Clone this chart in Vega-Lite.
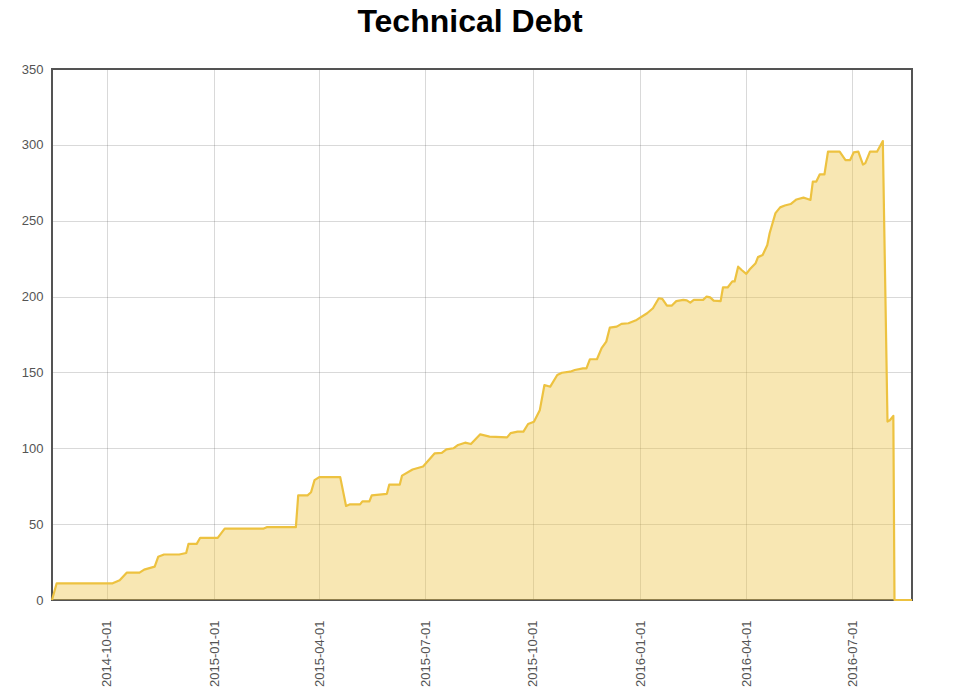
{
  "$schema": "https://vega.github.io/schema/vega-lite/v6.json",
  "width": 860,
  "height": 531,
  "autosize": {"type": "none"},
  "padding": {"left": 52, "top": 69, "right": 62, "bottom": 94},
  "background": "white",
  "title": {
    "text": "Technical Debt",
    "font": "Liberation Sans",
    "fontSize": 32,
    "fontWeight": "bold",
    "color": "#000000",
    "anchor": "middle",
    "dx": -12,
    "offset": 24
  },
  "config": {
    "view": {"stroke": "#545454", "strokeWidth": 2},
    "axis": {
      "labelFont": "Liberation Sans",
      "labelFontSize": 13,
      "labelColor": "#545454",
      "gridColor": "#545454",
      "gridOpacity": 0.22,
      "gridWidth": 1,
      "domain": false,
      "ticks": false,
      "tickSize": 0,
      "title": null
    }
  },
  "data": {
    "values": [
      {"date": "2014-08-15", "debt": 0},
      {"date": "2014-08-19", "debt": 11},
      {"date": "2014-10-06", "debt": 11},
      {"date": "2014-10-12", "debt": 13},
      {"date": "2014-10-18", "debt": 18},
      {"date": "2014-10-29", "debt": 18},
      {"date": "2014-11-02", "debt": 20},
      {"date": "2014-11-11", "debt": 22},
      {"date": "2014-11-14", "debt": 28.5},
      {"date": "2014-11-19", "debt": 30},
      {"date": "2014-12-02", "debt": 30},
      {"date": "2014-12-08", "debt": 31},
      {"date": "2014-12-10", "debt": 37},
      {"date": "2014-12-17", "debt": 37},
      {"date": "2014-12-20", "debt": 41},
      {"date": "2015-01-04", "debt": 41},
      {"date": "2015-01-10", "debt": 47},
      {"date": "2015-02-12", "debt": 47},
      {"date": "2015-02-15", "debt": 48},
      {"date": "2015-03-12", "debt": 48},
      {"date": "2015-03-14", "debt": 69},
      {"date": "2015-03-22", "debt": 69},
      {"date": "2015-03-25", "debt": 71},
      {"date": "2015-03-28", "debt": 79},
      {"date": "2015-04-01", "debt": 81},
      {"date": "2015-04-19", "debt": 81},
      {"date": "2015-04-24", "debt": 62},
      {"date": "2015-04-27", "debt": 63},
      {"date": "2015-05-06", "debt": 63},
      {"date": "2015-05-08", "debt": 65},
      {"date": "2015-05-14", "debt": 65},
      {"date": "2015-05-16", "debt": 69},
      {"date": "2015-05-29", "debt": 70},
      {"date": "2015-05-31", "debt": 76},
      {"date": "2015-06-09", "debt": 76},
      {"date": "2015-06-11", "debt": 82},
      {"date": "2015-06-20", "debt": 86},
      {"date": "2015-06-29", "debt": 88},
      {"date": "2015-07-09", "debt": 96.7},
      {"date": "2015-07-15", "debt": 97},
      {"date": "2015-07-19", "debt": 99.3},
      {"date": "2015-07-25", "debt": 100},
      {"date": "2015-07-29", "debt": 102.2},
      {"date": "2015-08-04", "debt": 103.7},
      {"date": "2015-08-09", "debt": 102.8},
      {"date": "2015-08-17", "debt": 109.2},
      {"date": "2015-08-25", "debt": 107.7},
      {"date": "2015-09-09", "debt": 107.2},
      {"date": "2015-09-12", "debt": 110},
      {"date": "2015-09-18", "debt": 111},
      {"date": "2015-09-23", "debt": 111},
      {"date": "2015-09-27", "debt": 116},
      {"date": "2015-10-02", "debt": 117.5},
      {"date": "2015-10-07", "debt": 125},
      {"date": "2015-10-11", "debt": 141.7},
      {"date": "2015-10-16", "debt": 140.6},
      {"date": "2015-10-22", "debt": 148.3},
      {"date": "2015-10-26", "debt": 149.8},
      {"date": "2015-11-02", "debt": 150.5},
      {"date": "2015-11-06", "debt": 151.6},
      {"date": "2015-11-13", "debt": 152.7},
      {"date": "2015-11-16", "debt": 152.7},
      {"date": "2015-11-19", "debt": 158.7},
      {"date": "2015-11-25", "debt": 158.7},
      {"date": "2015-11-29", "debt": 166},
      {"date": "2015-12-03", "debt": 170.3},
      {"date": "2015-12-06", "debt": 179.5},
      {"date": "2015-12-12", "debt": 180.2},
      {"date": "2015-12-16", "debt": 182},
      {"date": "2015-12-22", "debt": 182.4},
      {"date": "2015-12-29", "debt": 184.6},
      {"date": "2016-01-07", "debt": 189},
      {"date": "2016-01-12", "debt": 192.3},
      {"date": "2016-01-17", "debt": 198.9},
      {"date": "2016-01-20", "debt": 198.5},
      {"date": "2016-01-24", "debt": 194},
      {"date": "2016-01-28", "debt": 194},
      {"date": "2016-02-01", "debt": 197},
      {"date": "2016-02-07", "debt": 197.8},
      {"date": "2016-02-10", "debt": 197.5},
      {"date": "2016-02-13", "debt": 196},
      {"date": "2016-02-16", "debt": 197.8},
      {"date": "2016-02-24", "debt": 197.8},
      {"date": "2016-02-27", "debt": 200},
      {"date": "2016-03-01", "debt": 199.5},
      {"date": "2016-03-04", "debt": 197.3},
      {"date": "2016-03-10", "debt": 197},
      {"date": "2016-03-12", "debt": 206},
      {"date": "2016-03-16", "debt": 206},
      {"date": "2016-03-20", "debt": 210},
      {"date": "2016-03-22", "debt": 210},
      {"date": "2016-03-25", "debt": 219.7},
      {"date": "2016-03-28", "debt": 217.5},
      {"date": "2016-04-01", "debt": 215},
      {"date": "2016-04-04", "debt": 218},
      {"date": "2016-04-09", "debt": 222},
      {"date": "2016-04-11", "debt": 226},
      {"date": "2016-04-15", "debt": 227.4},
      {"date": "2016-04-19", "debt": 234},
      {"date": "2016-04-21", "debt": 241.7},
      {"date": "2016-04-26", "debt": 255},
      {"date": "2016-04-30", "debt": 258.8},
      {"date": "2016-05-04", "debt": 260},
      {"date": "2016-05-09", "debt": 261},
      {"date": "2016-05-14", "debt": 264},
      {"date": "2016-05-20", "debt": 265.2},
      {"date": "2016-05-23", "debt": 264.5},
      {"date": "2016-05-26", "debt": 263.7},
      {"date": "2016-05-28", "debt": 275.8},
      {"date": "2016-05-31", "debt": 275.8},
      {"date": "2016-06-03", "debt": 280.6},
      {"date": "2016-06-07", "debt": 280.6},
      {"date": "2016-06-10", "debt": 295.5},
      {"date": "2016-06-20", "debt": 295.5},
      {"date": "2016-06-25", "debt": 290},
      {"date": "2016-06-29", "debt": 290},
      {"date": "2016-07-02", "debt": 295},
      {"date": "2016-07-06", "debt": 295.5},
      {"date": "2016-07-10", "debt": 287},
      {"date": "2016-07-12", "debt": 288},
      {"date": "2016-07-16", "debt": 295.5},
      {"date": "2016-07-22", "debt": 295.5},
      {"date": "2016-07-27", "debt": 302.5},
      {"date": "2016-07-31", "debt": 117.6},
      {"date": "2016-08-02", "debt": 118.5},
      {"date": "2016-08-05", "debt": 121.3},
      {"date": "2016-08-06", "debt": 0},
      {"date": "2016-08-21", "debt": 0}
    ]
  },
  "encoding": {
    "x": {
      "field": "date",
      "type": "temporal",
      "scale": {"type": "utc", "nice": false},
      "axis": {
        "labelExpr": "utcFormat(datum.value, '%Y-%m-%d')",
        "labelAngle": 270,
        "labelPadding": 20,
        "labelOverlap": false,
        "labelFlush": false,
        "tickCount": {"interval": "month", "step": 3}
      }
    },
    "y": {
      "field": "debt",
      "type": "quantitative",
      "scale": {"domain": [0, 350], "nice": false, "zero": true},
      "axis": {
        "values": [0, 50, 100, 150, 200, 250, 300, 350],
        "labelPadding": 9,
        "labelFlush": false
      }
    }
  },
  "layer": [
    {"mark": {"type": "area", "color": "#edc240", "fillOpacity": 0.4, "strokeWidth": 0}},
    {"mark": {"type": "line", "color": "#edc240", "strokeWidth": 2.2, "strokeJoin": "round"}}
  ]
}
